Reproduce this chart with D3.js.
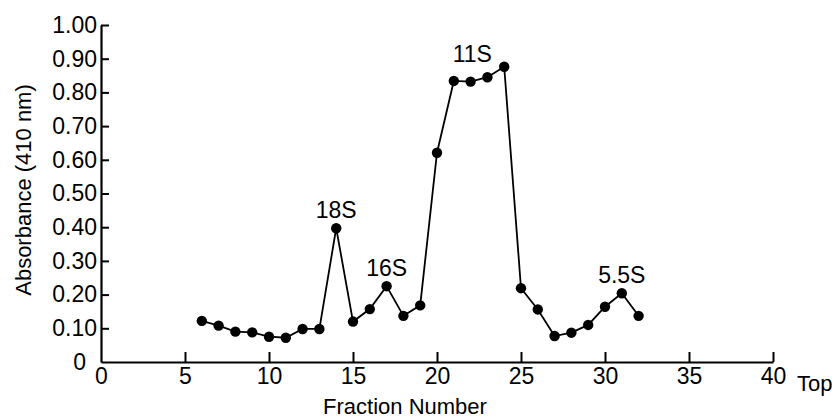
<!DOCTYPE html>
<html>
<head>
<meta charset="utf-8">
<script src="https://cdn.jsdelivr.net/npm/d3@7"></script>
<style>
  body { margin: 0; background: #fff; }
  svg text { font-family: "Liberation Sans", Arial, sans-serif; fill: #000; }
</style>
</head>
<body>
<div id="chart"></div>
<script>
// fraction numbers and absorbance at 410 nm
var fractions = [6, 7, 8, 9, 10, 11, 12, 13, 14, 15, 16, 17, 18, 19, 20, 21, 22, 23, 24, 25, 26, 27, 28, 29, 30, 31, 32];
var absorbance = [0.122, 0.108, 0.090, 0.088, 0.075, 0.072, 0.098, 0.098, 0.397, 0.120, 0.157, 0.225, 0.137, 0.168,
                  0.621, 0.834, 0.832, 0.845, 0.876, 0.219, 0.156, 0.077, 0.087, 0.110, 0.164, 0.204, 0.137];

var xTicks = [0, 5, 10, 15, 20, 25, 30, 35, 40];
var yTicks = [0, 0.1, 0.2, 0.3, 0.4, 0.5, 0.6, 0.7, 0.8, 0.9, 1.0];

// peak labels (sedimentation coefficients)
var peakLabels = ["18S", "16S", "11S", "5.5S"];
var peakX = [14, 17, 22.1, 31];
var peakY = [0.397, 0.225, 0.845, 0.204];

var data = fractions.map(function(f, i) { return {f: f, v: absorbance[i]}; });

var W = 834, H = 419;
var margin = {top: 25, right: 61, bottom: 57, left: 101};
var width = W - margin.left - margin.right,
    height = H - margin.top - margin.bottom;

var svg = d3.select("#chart").append("svg")
    .attr("width", W)
    .attr("height", H);

var g = svg.append("g")
    .attr("transform", "translate(" + margin.left + "," + margin.top + ")");

var x = d3.scaleLinear().domain([0, 40]).range([0, width]);
var y = d3.scaleLinear().domain([0, 1]).range([height, 0]);

// x axis, ticks point up into the plot
var xAxis = g.append("g")
    .attr("transform", "translate(0," + height + ")")
    .call(d3.axisBottom(x).tickValues(xTicks).tickSize(-10).tickSizeOuter(0).tickPadding(6)
      .tickFormat(d3.format("d")));

// y axis, ticks point right
var yAxis = g.append("g")
    .call(d3.axisLeft(y).tickValues(yTicks).tickSize(-8).tickSizeOuter(0).tickPadding(4)
      .tickFormat(function(d) { return d === 0 ? "0" : d3.format(".2f")(d); }));

[xAxis, yAxis].forEach(function(a) {
  a.attr("font-family", null);
  a.select(".domain").attr("stroke", "#000").attr("stroke-width", 2.2).attr("fill", "none");
  a.selectAll(".tick line").attr("stroke", "#000").attr("stroke-width", 2);
  a.selectAll(".tick text").attr("font-size", 23);
});
xAxis.selectAll(".tick line").filter(function(d) { return d === 0; }).remove();
yAxis.selectAll(".tick line").filter(function(d) { return d === 0; }).remove();
// the y "0" sits a little further left, clear of the x "0"
yAxis.selectAll(".tick text").filter(function(d) { return d === 0; }).attr("dx", -11);

// line + markers
var line = d3.line()
    .x(function(d) { return x(d.f); })
    .y(function(d) { return y(d.v); });

g.append("path")
    .datum(data)
    .attr("fill", "none")
    .attr("stroke", "#000")
    .attr("stroke-width", 1.8)
    .attr("d", line);

g.selectAll("circle.pt")
    .data(data)
    .enter().append("circle")
    .attr("class", "pt")
    .attr("cx", function(d) { return x(d.f); })
    .attr("cy", function(d) { return y(d.v); })
    .attr("r", 5.2)
    .attr("fill", "#000");

// peak annotations
g.selectAll("text.peak")
    .data(peakLabels)
    .enter().append("text")
    .attr("class", "peak")
    .attr("x", function(d, i) { return x(peakX[i]); })
    .attr("y", function(d, i) { return y(peakY[i]) - (i === 2 ? 15 : 10); })
    .attr("text-anchor", "middle")
    .attr("font-size", 23)
    .text(function(d) { return d; });

// axis titles
svg.append("text")
    .attr("x", 405)
    .attr("y", 414)
    .attr("text-anchor", "middle")
    .attr("font-size", 22)
    .text("Fraction Number");

svg.append("text")
    .attr("x", 797)
    .attr("y", 391)
    .attr("font-size", 22)
    .text("Top");

svg.append("text")
    .attr("transform", "translate(31,190) rotate(-90)")
    .attr("text-anchor", "middle")
    .attr("font-size", 22)
    .text("Absorbance (410 nm)");
</script>
</body>
</html>
